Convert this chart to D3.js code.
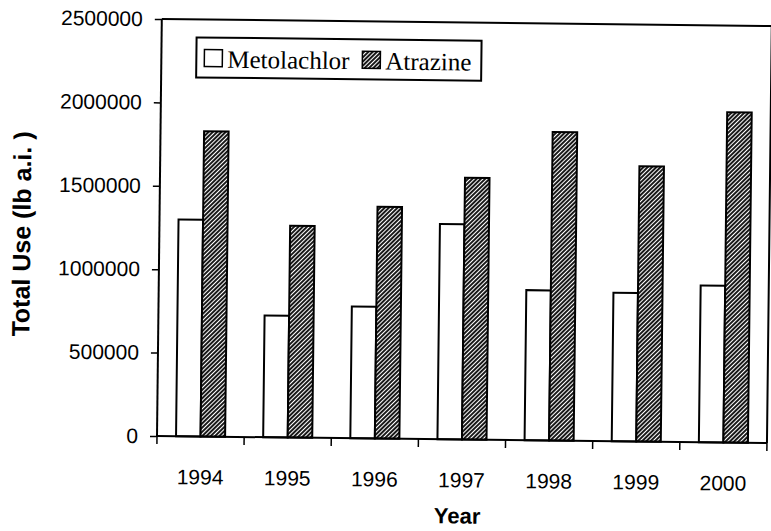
<!DOCTYPE html>
<html>
<head>
<meta charset="utf-8">
<script src="https://cdn.jsdelivr.net/npm/d3@7"></script>
<style>
  html, body { margin: 0; padding: 0; background: #fff; }
  svg { display: block; }
</style>
</head>
<body>
<svg id="chart" width="771" height="531"></svg>
<script>
// Annual herbicide use, pounds of active ingredient
const years = ["1994", "1995", "1996", "1997", "1998", "1999", "2000"];
const seriesNames = ["Metolachlor", "Atrazine"];
const metolachlor = [1300000, 730000, 790000, 1290000, 900000, 890000, 940000];
const atrazine = [1830000, 1270000, 1390000, 1570000, 1850000, 1650000, 1980000];
const yTicks = [0, 500000, 1000000, 1500000, 2000000, 2500000];

const rows = years.map((y, i) => ({ year: y, values: [metolachlor[i], atrazine[i]] }));

const svg = d3.select("#chart");
const margin = { left: 157, top: 19 };
const W = 610, H = 417;

const defs = svg.append("defs");
defs.append("pattern")
  .attr("id", "hatch")
  .attr("patternUnits", "userSpaceOnUse")
  .attr("width", 3).attr("height", 3)
  .attr("patternTransform", "rotate(45)")
  .call(p => {
    p.append("rect").attr("width", 3).attr("height", 3).attr("fill", "#fff");
    p.append("line").attr("x1", 1).attr("y1", 0).attr("x2", 1).attr("y2", 3)
      .attr("stroke", "#000").attr("stroke-width", 1.8);
  });

const fills = ["#fff", "url(#hatch)"];

// whole sheet sits slightly askew
const page = svg.append("g")
  .attr("transform", `rotate(0.66, ${margin.left}, ${margin.top + H})`);

const g = page.append("g").attr("transform", `translate(${margin.left},${margin.top})`);

const x0 = d3.scaleBand().domain(years).range([0, W]).paddingInner(0.437).paddingOuter(0.2185);
const x1 = d3.scaleBand().domain(seriesNames).range([0, x0.bandwidth()]);
const y = d3.scaleLinear().domain([0, 2500000]).range([H, 0]);

// bars
g.append("g").selectAll("g")
  .data(rows).join("g")
  .attr("transform", d => `translate(${x0(d.year)},0)`)
  .selectAll("rect")
  .data(d => d.values.map((v, i) => ({ key: seriesNames[i], v, i })))
  .join("rect")
  .attr("x", d => x1(d.key))
  .attr("y", d => y(d.v))
  .attr("width", x1.bandwidth())
  .attr("height", d => H - y(d.v))
  .attr("fill", d => fills[d.i])
  .attr("stroke", "#000")
  .attr("stroke-width", 2);

// plot frame (top and right)
g.append("path")
  .attr("d", `M0,0H${W}V${H}`)
  .attr("fill", "none").attr("stroke", "#000").attr("stroke-width", 2);

// y axis
const yAxis = g.append("g")
  .call(d3.axisLeft(y).tickValues(yTicks).tickFormat(d3.format("d")).tickSize(7).tickPadding(12));
yAxis.select(".domain").attr("stroke-width", 2).attr("d", `M0,0V${H}`);
yAxis.selectAll(".tick line").attr("stroke-width", 1.5);
yAxis.selectAll("text")
  .attr("font-family", "Arial, 'Liberation Sans', sans-serif")
  .attr("font-size", 21).attr("fill", "#000");

// x axis: labels at category centres, ticks at category boundaries
const xAxis = g.append("g").attr("transform", `translate(0,${H})`)
  .call(d3.axisBottom(x0).tickSize(0).tickPadding(33));
xAxis.select(".domain").attr("stroke-width", 2).attr("d", `M0,0H${W}`);
xAxis.selectAll("text")
  .attr("font-family", "Arial, 'Liberation Sans', sans-serif")
  .attr("font-size", 21).attr("fill", "#000");
const step = x0.step();
xAxis.selectAll(".bound")
  .data(d3.range(years.length + 1))
  .join("line")
  .attr("class", "bound")
  .attr("x1", i => i * step).attr("x2", i => i * step)
  .attr("y1", 0).attr("y2", 8)
  .attr("stroke", "#000").attr("stroke-width", 1.5);

// axis titles
page.append("text")
  .attr("transform", `translate(28,${margin.top + H / 2 + 8}) rotate(-90)`)
  .attr("text-anchor", "middle")
  .attr("font-family", "Arial, 'Liberation Sans', sans-serif")
  .attr("font-weight", "bold").attr("font-size", 25)
  .text("Total Use (lb a.i. )");

page.append("text")
  .attr("x", 458).attr("y", 520)
  .attr("text-anchor", "middle")
  .attr("font-family", "Arial, 'Liberation Sans', sans-serif")
  .attr("font-weight", "bold").attr("font-size", 22)
  .text("Year");

// legend
const lg = page.append("g").attr("transform", "translate(192,37)");
lg.append("rect").attr("width", 285).attr("height", 40)
  .attr("fill", "#fff").attr("stroke", "#000").attr("stroke-width", 2);
const items = [{ name: "Metolachlor", x: 8 }, { name: "Atrazine", x: 166 }];
const li = lg.selectAll(".item").data(items).join("g")
  .attr("class", "item")
  .attr("transform", d => `translate(${d.x},0)`);
li.append("rect").attr("x", 0).attr("y", 12).attr("width", 18).attr("height", 17)
  .attr("fill", (d, i) => fills[i]).attr("stroke", "#000").attr("stroke-width", 1.5);
li.append("text").attr("x", 23).attr("y", 30)
  .attr("font-family", "'Times New Roman', 'Liberation Serif', serif")
  .attr("font-size", 25).attr("fill", "#000")
  .text(d => d.name);
</script>
</body>
</html>
